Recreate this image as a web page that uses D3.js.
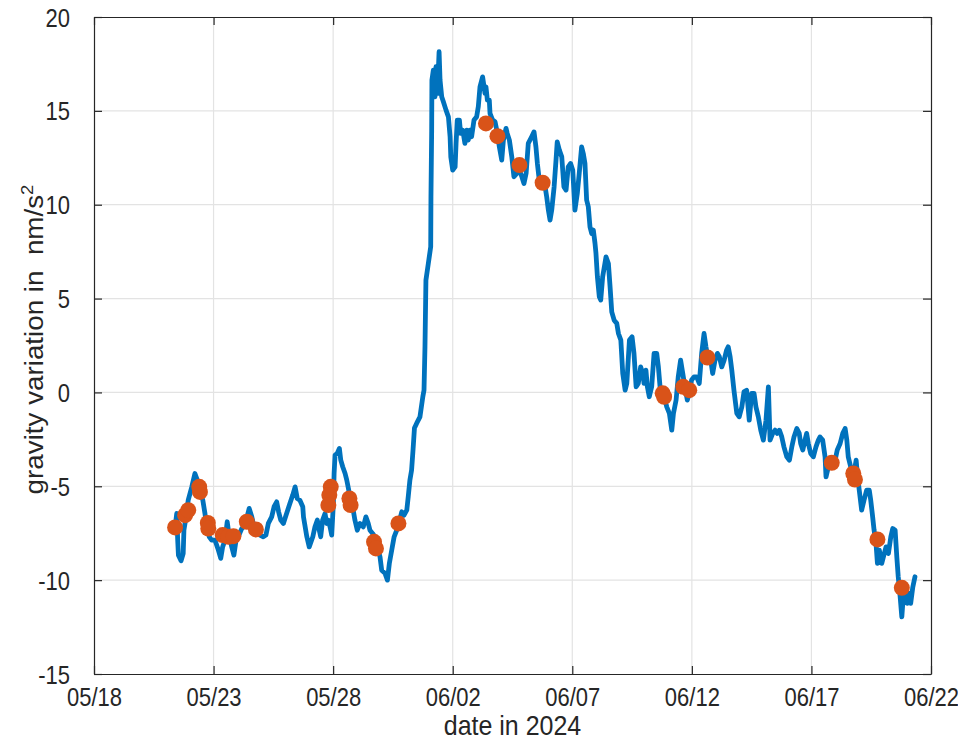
<!DOCTYPE html>
<html>
<head>
<meta charset="utf-8">
<script src="https://cdn.jsdelivr.net/npm/d3@7"></script>
<style>
  body { margin: 0; background: #fff; }
  text { font-family: "Liberation Sans", Arial, sans-serif; fill: #262626; }
</style>
</head>
<body>
<main></main>
<script>
// gravity record, days since 2024-05-18 and value in nm/s^2
const tDays = [3.39,3.46,3.50,3.53,3.64,3.73,3.76,3.85,3.94,4.09,4.22,4.32,4.43,4.55,4.64,4.71,4.82,4.92,5.06,5.20,
  5.30,5.38,5.48,5.57,5.66,5.76,5.85,5.94,6.03,6.18,6.31,6.49,6.60,6.69,6.80,6.94,7.08,7.19,7.29,7.43,
  7.53,7.64,7.72,7.81,7.92,8.03,8.17,8.31,8.41,8.50,8.61,8.73,8.76,8.90,9.00,9.15,9.24,9.34,9.42,9.48,
  9.56,9.66,9.73,9.80,9.87,9.94,10.01,10.04,10.08,10.17,10.26,10.32,10.40,10.50,10.57,10.68,10.78,10.84,10.91,11.01,
  11.12,11.26,11.37,11.47,11.54,11.65,11.75,11.85,11.96,12.03,12.17,12.27,12.35,12.45,12.55,12.66,12.80,12.87,12.96,13.08,
  13.14,13.21,13.28,13.34,13.40,13.49,13.63,13.75,13.80,13.84,13.88,13.98,14.08,14.09,14.12,14.13,14.19,14.26,14.30,14.36,
  14.43,14.47,14.54,14.61,14.72,14.82,14.89,14.92,15.00,15.10,15.14,15.19,15.28,15.33,15.42,15.51,15.59,15.65,15.72,15.79,
  15.89,16.00,16.07,16.14,16.25,16.35,16.39,16.45,16.53,16.56,16.67,16.77,16.87,16.95,17.05,17.12,17.23,17.28,17.37,17.47,
  17.56,17.68,17.79,17.89,17.98,18.07,18.16,18.30,18.40,18.48,18.54,18.62,18.72,18.82,18.93,19.00,19.07,19.14,19.24,19.32,
  19.37,19.46,19.56,19.65,19.74,19.83,19.93,20.02,20.11,20.21,20.29,20.39,20.46,20.53,20.60,20.67,20.74,20.81,20.88,20.95,
  20.99,21.05,21.13,21.19,21.27,21.41,21.51,21.58,21.65,21.75,21.86,21.93,22.03,22.11,22.21,22.28,22.39,22.50,22.58,22.67,
  22.76,22.86,22.95,23.00,23.08,23.14,23.22,23.32,23.42,23.53,23.60,23.67,23.78,23.88,23.95,24.06,24.16,24.23,24.34,24.43,
  24.53,24.62,24.71,24.81,24.89,24.99,25.09,25.20,25.31,25.41,25.51,25.59,25.69,25.79,25.87,25.97,26.07,26.15,26.25,26.35,
  26.45,26.52,26.60,26.67,26.76,26.88,26.98,27.09,27.18,27.29,27.40,27.50,27.60,27.68,27.78,27.88,27.99,28.10,28.20,28.27,
  28.38,28.48,28.57,28.66,28.76,28.85,28.97,29.08,29.18,29.27,29.39,29.49,29.55,29.64,29.73,29.80,29.87,29.97,30.08,30.19,
  30.29,30.36,30.47,30.57,30.61,30.71,30.85,30.99,31.08,31.20,31.31,31.41,31.48,31.54,31.64,31.75,31.87,31.92,32.00,32.10,
  32.20,32.31,32.42,32.48,32.56,32.62,32.70,32.76,32.84,32.94,33.01,33.12,33.22,33.32,33.40,33.50,33.57,33.63,33.71,33.78,
  33.84,33.96,34.01,34.09,34.15,34.24,34.33];
const gVals = [-7.19,-6.45,-7.87,-8.67,-8.97,-8.58,-7.34,-6.63,-5.74,-5.03,-4.32,-4.67,-5.21,-5.74,-6.45,-7.16,-7.69,-7.87,-7.87,-8.40,
  -8.84,-8.23,-7.87,-6.89,-7.69,-8.23,-8.67,-7.87,-7.69,-7.25,-7.07,-6.18,-6.63,-7.16,-7.51,-7.60,-7.69,-7.60,-6.98,-6.63,
  -6.09,-5.83,-6.36,-6.80,-6.98,-6.54,-6.00,-5.47,-5.03,-5.65,-5.74,-6.09,-6.63,-7.69,-8.23,-7.69,-7.16,-6.80,-7.34,-7.69,
  -6.80,-6.45,-6.98,-6.80,-7.16,-7.60,-5.91,-4.32,-3.34,-3.25,-2.98,-3.61,-3.96,-4.32,-4.67,-5.38,-5.91,-6.27,-6.80,-7.34,
  -6.98,-7.16,-6.63,-6.98,-7.34,-7.51,-7.69,-8.23,-8.76,-9.47,-9.64,-10.00,-9.11,-8.40,-7.69,-7.34,-6.71,-6.36,-6.54,-6.27,
  -5.56,-4.67,-4.14,-3.07,-1.90,-1.65,-1.30,-0.23,0.12,2.43,5.98,6.87,7.76,10.42,13.97,16.64,17.17,15.75,17.35,15.93,
  18.15,16.64,15.75,15.48,15.04,14.68,13.62,12.55,11.84,12.02,13.27,14.51,14.51,13.80,13.97,13.27,13.97,13.44,13.97,13.62,
  14.51,14.68,15.22,16.28,16.81,15.93,16.28,15.57,15.57,14.86,14.51,14.42,13.80,13.08,12.38,13.44,14.07,13.80,13.44,12.55,
  11.49,11.67,11.84,11.49,11.13,11.67,13.27,13.62,13.88,13.08,12.20,11.31,11.13,11.31,10.42,9.71,9.18,9.71,10.95,12.38,
  13.35,12.91,12.55,10.95,10.78,12.02,12.20,11.84,9.71,10.60,11.67,13.08,12.73,12.20,10.25,9.89,8.82,8.47,8.65,7.94,
  7.41,6.16,5.09,4.92,6.16,7.22,6.87,5.63,4.29,3.85,3.68,3.14,2.79,1.01,0.12,0.48,2.79,2.96,2.08,0.30,
  0.48,1.36,1.01,0.48,1.19,0.30,-0.23,0.30,2.08,2.08,1.36,0.30,-0.05,-0.41,-0.77,-1.12,-2.01,-1.12,-0.41,0.83,
  1.72,1.01,0.30,-0.41,-0.05,0.66,0.83,0.83,0.48,2.08,3.14,2.43,1.72,1.72,1.01,1.72,2.08,1.90,1.36,1.72,
  2.25,2.43,1.90,1.19,0.12,-1.12,-1.30,-0.77,0.03,0.12,-1.48,-0.05,-0.05,-0.77,-1.30,-2.01,-2.54,-1.48,0.30,-2.54,
  -2.18,-2.01,-2.18,-2.01,-2.37,-2.90,-3.43,-3.61,-2.90,-2.37,-1.92,-2.18,-2.72,-3.07,-2.54,-2.18,-2.72,-3.25,-3.43,-2.90,
  -2.54,-2.37,-2.54,-3.43,-4.50,-3.96,-3.78,-3.61,-3.07,-2.72,-2.18,-1.92,-2.54,-3.43,-3.96,-4.50,-3.61,-4.32,-5.21,-6.27,
  -5.74,-5.21,-5.21,-5.74,-6.63,-7.34,-8.04,-9.11,-8.40,-9.11,-8.76,-8.23,-8.58,-7.69,-7.25,-7.34,-8.76,-9.82,-10.89,-11.96,
  -10.89,-10.36,-11.24,-10.71,-11.24,-10.36,-9.82];

// marked samples
const dotDays = [3.39,3.81,3.94,4.40,4.43,4.76,4.78,5.38,5.62,5.83,6.39,6.77,9.90,9.84,9.80,10.68,10.73,11.71,11.79,12.73,
  16.39,16.87,17.79,18.76,23.78,23.84,24.64,24.89,25.65,30.85,31.75,31.82,32.76,33.78];
const dotVals = [-7.19,-6.54,-6.27,-5.03,-5.30,-6.95,-7.25,-7.60,-7.69,-7.66,-6.89,-7.30,-5.03,-5.47,-6.00,-5.65,-6.00,-7.96,-8.31,-6.98,
  14.33,13.65,12.11,11.17,-0.05,-0.23,0.30,0.12,1.86,-3.75,-4.32,-4.64,-7.83,-10.41];

const xTicks = ["2024-05-18","2024-05-23","2024-05-28","2024-06-02","2024-06-07","2024-06-12","2024-06-17","2024-06-22"];
const yTicks = [-15,-10,-5,0,5,10,15,20];

const svgWidth = 958,
  svgHeight = 742,
  margin = { left: 94, right: 27, top: 17, bottom: 68 },
  stretch = 1.14; // the figure text is a bit taller than it is wide

const parse = d3.timeParse("%Y-%m-%d"),
  start = parse(xTicks[0]),
  dayOf = d => new Date(start.getTime() + d * 864e5);

const xScale = d3.scaleTime()
    .domain([start, parse(xTicks[xTicks.length - 1])])
    .range([margin.left, svgWidth - margin.right]),
  yScale = d3.scaleLinear().domain([-15, 20]).range([svgHeight - margin.bottom, margin.top]);

const svg = d3.select("main").append("svg")
  .attr("width", svgWidth)
  .attr("height", svgHeight)
  .style("display", "block");

svg.append("rect").attr("width", svgWidth).attr("height", svgHeight).attr("fill", "#fff");

const x0 = margin.left, x1 = svgWidth - margin.right,
  y0 = margin.top, y1 = svgHeight - margin.bottom;

// grid
const grid = svg.append("g").attr("stroke", "#e3e3e3").attr("stroke-width", 1.2);
grid.selectAll(".gx").data(xTicks.slice(1, -1)).join("line")
  .attr("x1", d => xScale(parse(d))).attr("x2", d => xScale(parse(d)))
  .attr("y1", y0).attr("y2", y1);
grid.selectAll(".gy").data(yTicks.slice(1, -1)).join("line")
  .attr("y1", d => yScale(d)).attr("y2", d => yScale(d))
  .attr("x1", x0).attr("x2", x1);

// data line
const line = d3.line()
  .x((d, i) => xScale(dayOf(tDays[i])))
  .y(d => yScale(d));

svg.append("path")
  .attr("d", line(gVals))
  .attr("fill", "none")
  .attr("stroke", "#0072BD")
  .attr("stroke-width", 4.8)
  .attr("stroke-linejoin", "round")
  .attr("stroke-linecap", "round");

svg.append("g").selectAll("circle").data(dotVals).join("circle")
  .attr("cx", (d, i) => xScale(dayOf(dotDays[i])))
  .attr("cy", d => yScale(d))
  .attr("r", 8)
  .attr("fill", "#D95319");

// axes box with inward ticks
const tickLen = 8;
const axisG = svg.append("g");
const bottom = axisG.append("g").attr("transform", `translate(0,${y1})`)
  .call(d3.axisBottom(xScale).tickValues(xTicks.map(parse)).tickSizeInner(-tickLen).tickSizeOuter(0)
    .tickFormat(d3.timeFormat("%m/%d")));
axisG.append("g").attr("transform", `translate(0,${y0})`)
  .call(d3.axisTop(xScale).tickValues(xTicks.map(parse)).tickSizeInner(-tickLen).tickSizeOuter(0).tickFormat(""));
const left = axisG.append("g").attr("transform", `translate(${x0},0)`)
  .call(d3.axisLeft(yScale).tickValues(yTicks).tickSizeInner(-tickLen).tickSizeOuter(0).tickFormat(d => String(d)));
axisG.append("g").attr("transform", `translate(${x1},0)`)
  .call(d3.axisRight(yScale).tickValues(yTicks).tickSizeInner(-tickLen).tickSizeOuter(0).tickFormat(""));

axisG.selectAll(".domain").attr("stroke", "#262626").attr("stroke-width", 1.2);
axisG.selectAll(".tick line").attr("stroke", "#262626").attr("stroke-width", 1.2);
axisG.selectAll(".tick text")
  .attr("font-family", "'Liberation Sans', Arial, sans-serif")
  .attr("font-size", 22)
  .attr("fill", "#262626");

bottom.selectAll(".tick text")
  .attr("y", null).attr("dy", null)
  .attr("transform", `translate(0,32) scale(1,${stretch})`);
left.selectAll(".tick text")
  .attr("x", null).attr("dy", null)
  .attr("transform", `translate(-24,9) scale(1,${stretch})`);

// labels
svg.append("text")
  .attr("transform", `translate(${(x0 + x1) / 2},735) scale(1,1.09)`)
  .attr("text-anchor", "middle")
  .attr("font-size", 25)
  .text("date in 2024");

const yl = svg.append("text")
  .attr("transform", `translate(43,${(y0 + y1) / 2 - 6}) scale(1,1.09) rotate(-90)`)
  .attr("text-anchor", "middle")
  .attr("font-size", 25.5);
yl.append("tspan").text("gravity variation in \u00a0nm/s");
yl.append("tspan").attr("font-size", 17).attr("dy", -10).text("2");
</script>
</body>
</html>
